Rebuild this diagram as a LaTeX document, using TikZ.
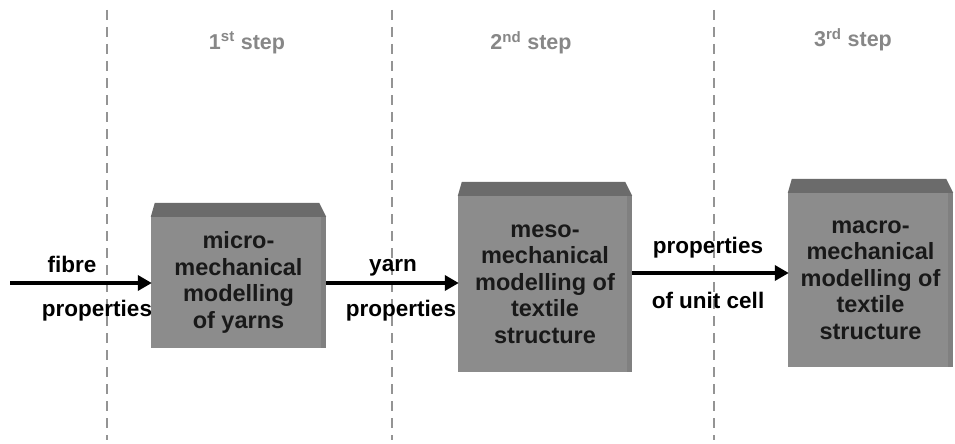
\documentclass[tikz,border=0pt]{standalone}
\usepackage{fontspec}
\setmainfont{Liberation Sans}
\usetikzlibrary{arrows.meta,calc}
\definecolor{frontgray}{gray}{0.55}
\definecolor{topgray}{gray}{0.42}
\definecolor{sidegray}{gray}{0.50}
\definecolor{stepgray}{gray}{0.53}
\definecolor{dashgray}{gray}{0.58}
\tikzset{
  box/.style={fill=frontgray, draw=none, align=center, inner sep=0pt,
    font=\fontsize{23.5}{26.5}\selectfont\bfseries, text=black!90},
  lbl/.style={font=\fontsize{22.5}{26}\selectfont\bfseries, inner sep=0pt},
  steplbl/.style={font=\fontsize{21.5}{24}\selectfont\bfseries, text=stepgray, inner sep=0pt},
  sep/.style={draw=dashgray, line width=2.8pt, dash pattern=on 10pt off 7pt},
  flow/.style={line width=4pt, -{Triangle[length=14pt,width=15pt]}, shorten >=-1pt},
}
\newcommand{\cubetop}[1]{%
  \fill[topgray] (#1.north west) -- ($(#1.north west)+(4,-14)$) -- ($(#1.north east)+(-7,-14)$) -- (#1.north east) -- cycle;
  \fill[sidegray] ($(#1.north east)+(-5,0)$) rectangle (#1.south east);
}
\begin{document}
\begin{tikzpicture}[x=1pt,y=-1pt]
\useasboundingbox (0,0) rectangle (955,444);
% separators
\coordinate (s1t) at (107,10); \coordinate (s1b) at (107,440);
\coordinate (s2t) at (392,10); \coordinate (s2b) at (392,440);
\coordinate (s3t) at (714,10); \coordinate (s3b) at (714,440);
\draw[sep] (s1t) -- (s1b);
\draw[sep] (s2t) -- (s2b);
\draw[sep] (s3t) -- (s3b);
% step labels
\node[steplbl] (st1) at (247,43) {1\textsuperscript{st} step};
\node[steplbl] (st2) at (531,43) {2\textsuperscript{nd} step};
\node[steplbl] (st3) at (853,40) {3\textsuperscript{rd} step};
% boxes
\node[box, minimum width=175pt, minimum height=131pt] (b1) at (238.5,282.5) {micro-\\mechanical\\modelling\\of yarns};
\node[box, minimum width=174pt, minimum height=176pt] (b2) at (545,284) {meso-\\mechanical\\modelling of\\textile\\structure};
\node[box, minimum width=165pt, minimum height=174pt] (b3) at (870.5,280) {macro-\\mechanical\\modelling of\\textile\\structure};
\cubetop{b1}
\cubetop{b2}
\cubetop{b3}
% flows
\coordinate (in0) at (10,283);
\draw[flow] (in0) -- (b1.west |- in0);
\coordinate (a2) at (b1.east |- 0,283);
\draw[flow] (a2) -- (b2.west |- a2);
\coordinate (a3) at (b2.east |- 0,273);
\draw[flow] (a3) -- (b3.west |- a3);
% labels
\node[lbl] (l1) at (72,264) {fibre};
\node[lbl] (l2) at (97,311) {properties};
\node[lbl] (l3) at (393,268) {yarn};
\node[lbl] (l4) at (401,311) {properties};
\node[lbl] (l5) at (708,248) {properties};
\node[lbl] (l6) at (708,300) {of unit cell};
\end{tikzpicture}
\end{document}
